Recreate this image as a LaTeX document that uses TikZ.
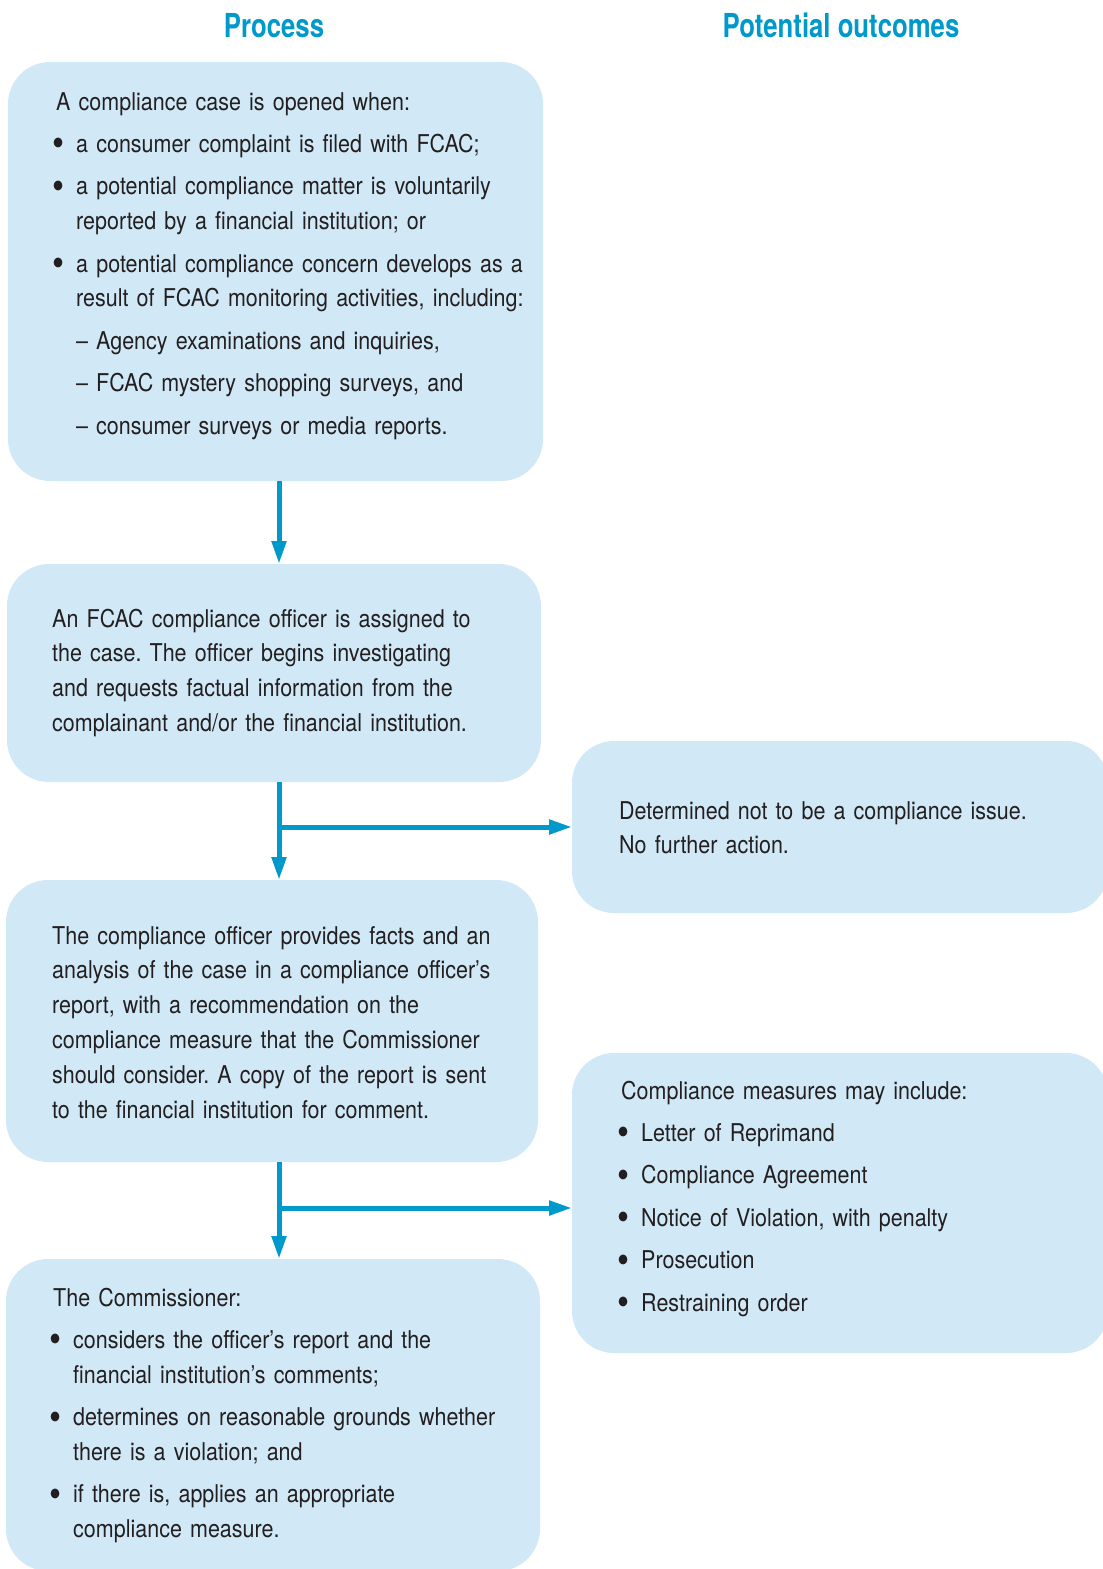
\documentclass[tikz,border=0pt]{standalone}
\usepackage{fontspec}
\setmainfont{TeX Gyre Heros}[FakeStretch=0.877]
\newfontfamily\headfont{TeX Gyre Heros}[FakeStretch=0.78]
\usetikzlibrary{arrows.meta}

\definecolor{boxblue}{RGB}{209,233,246}
\definecolor{flowblue}{RGB}{0,153,204}
\definecolor{inkgrey}{RGB}{35,31,32}

\newlength\bind
\setlength\bind{22pt}
\newcommand\bigdot{\hspace*{-2pt}\raisebox{-4.5pt}{\scalebox{1.6}{\textbullet}}}
\newcommand\bitem[1]{\par\vspace{7.6pt}\hangindent=\bind\hangafter=1\noindent\makebox[\bind][l]{\bigdot}#1\par}
\newcommand\ditem[1]{\par\vspace{7.6pt}\noindent\hspace*{\bind}\makebox[20pt][l]{\textendash}#1\par}

\tikzset{
	stage/.style={fill=boxblue, rounded corners=42pt, inner sep=0, outer sep=0, anchor=north west},
	stagetext/.style={text width=500pt, inner sep=0, anchor=base west, text=inkgrey,
		font=\fontsize{24.5}{34.8}\selectfont\frenchspacing},
	colhead/.style={anchor=base, text=flowblue, font=\headfont\bfseries\fontsize{33}{40}\selectfont},
	flow/.style={draw=flowblue, line width=5pt, -{Triangle[length=23pt,width=14pt]}}
}

\begin{document}
\begin{tikzpicture}[x=1pt,y=1pt]
		\useasboundingbox (0,0) rectangle (1103,-1569);
		\clip (0,0) rectangle (1103,-1569);
		\node[colhead] (process) at (274,-37) {Process};
		\node[colhead] (outcomes) at (841,-37) {Potential outcomes};
		% left column
		\node[stage, minimum width=535, minimum height=419] (open) at (8,-62) {};
		\node[stage, minimum width=534, minimum height=218] (assign) at (7,-564) {};
		\node[stage, minimum width=532, minimum height=282] (report) at (6,-880) {};
		\node[stage, minimum width=534, minimum height=312] (decide) at (6,-1259) {};
		% right column
		\node[stage, minimum width=536, minimum height=172] (noissue) at (572,-741) {};
		\node[stage, minimum width=536, minimum height=300] (measures) at (572,-1053) {};
		\node[stagetext] (opentxt) at (54,-110) {\hspace*{2pt}A compliance case is opened when:
			\bitem{a consumer complaint is filed with FCAC;}
			\bitem{a potential compliance matter is voluntarily\newline reported by a financial institution; or}
			\bitem{a potential compliance concern develops as a\newline result of FCAC monitoring activities, including:}
			\ditem{Agency examinations and inquiries,}
			\ditem{FCAC mystery shopping surveys, and}
			\ditem{consumer surveys or media reports.}};
		\node[stagetext] (assigntxt) at (52,-627) {An FCAC compliance officer is assigned to\newline
			the case. The officer begins investigating\newline
			and requests factual information from the\newline
			complainant and/or the financial institution.};
		\node[stagetext] (reporttxt) at (52,-944) {The compliance officer provides facts and an\newline
			analysis of the case in a compliance officer’s\newline
			report, with a recommendation on the\newline
			compliance measure that the Commissioner\newline
			should consider. A copy of the report is sent\newline
			to the financial institution for comment.};
		\node[stagetext] (decidetxt) at (51,-1306) {\hspace*{2pt}The Commissioner:
			\bitem{considers the officer’s report and the\newline financial institution’s comments;}
			\bitem{determines on reasonable grounds whether\newline there is a violation; and}
			\bitem{if there is, applies an appropriate\newline compliance measure.}};
		\node[stagetext] (noissuetxt) at (619,-819) {Determined not to be a compliance issue.\newline
			No further action.};
		\node[stagetext] (measurestxt) at (619,-1099) {\hspace*{2pt}Compliance measures may include:
			\bitem{Letter of Reprimand}
			\bitem{Compliance Agreement}
			\bitem{Notice of Violation, with penalty}
			\bitem{Prosecution}
			\bitem{Restraining order}};
		% connectors
		\coordinate (spine) at (279,0);
		\coordinate (fork1) at (279,-827);
		\coordinate (fork2) at (279,-1208);
		\draw[flow] (open.south -| spine) -- (assign.north -| spine);
		\draw[flow] (assign.south -| spine) -- (report.north -| spine);
		\draw[flow] (report.south -| spine) -- (decide.north -| spine);
		\draw[flow] ([xshift=-2.5pt]fork1) -- (fork1 -| noissue.west);
		\draw[flow] ([xshift=-2.5pt]fork2) -- (fork2 -| measures.west);
\end{tikzpicture}
\end{document}
